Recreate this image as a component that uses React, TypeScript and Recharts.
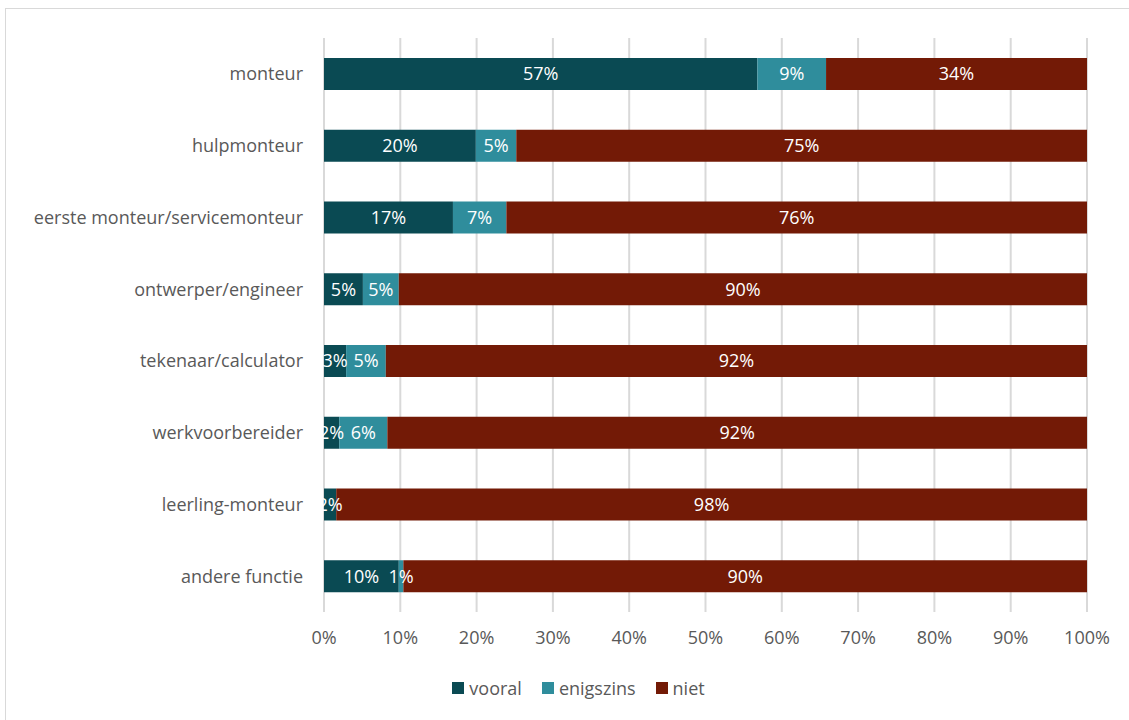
import { BarChart, Bar, XAxis, YAxis, CartesianGrid, Legend, LabelList } from 'recharts';

const categories = [
    'monteur',
    'hulpmonteur',
    'eerste monteur/servicemonteur',
    'ontwerper/engineer',
    'tekenaar/calculator',
    'werkvoorbereider',
    'leerling-monteur',
    'andere functie',
];
const vooral = [56.8, 19.9, 16.9, 5.1, 2.9, 2.0, 1.6, 9.8];
const enigszins = [9.0, 5.3, 7.0, 4.7, 5.2, 6.3, 0, 0.6];
const niet = [34.2, 74.8, 76.1, 90.2, 91.9, 91.7, 98.4, 89.6];
const xTicks = [0, 10, 20, 30, 40, 50, 60, 70, 80, 90, 100];

const series = [
    { key: 'vooral', color: '#0a4a53' },
    { key: 'enigszins', color: '#2f8d9c' },
    { key: 'niet', color: '#731a06' },
];

const data = categories.map((name, i) => ({
    name,
    vooral: vooral[i],
    enigszins: enigszins[i],
    niet: niet[i],
}));

const FONT = 'Open Sans, sans-serif';
const GRAY = '#595959';
const FS = 18;

const pct = (v: any) => (Number(v) > 0 ? `${Math.round(Number(v))}%` : '');

const LegendContent = () => (
    <div style={{ display: 'flex', justifyContent: 'center', gap: 20, fontFamily: FONT, fontSize: FS, color: GRAY }}>
        {series.map((s) => (
            <div key={s.key} style={{ display: 'flex', alignItems: 'center' }}>
                <span style={{ width: 12, height: 12, background: s.color, marginRight: 5, display: 'inline-block' }} />
                <span>{s.key}</span>
            </div>
        ))}
    </div>
);

const App = () => {
    return (
        <div style={{ position: 'absolute', left: 0, top: 0, width: 1129, height: 720, background: '#fff' }}>
            <div style={{ position: 'absolute', left: 5, top: 8, width: 1140, height: 730, border: '1px solid #d9d9d9' }} />
            <BarChart
                width={1129}
                height={720}
                data={data}
                layout="vertical"
                barSize={32}
                margin={{ top: 38, right: 42, left: 0, bottom: 20 }}
                style={{ position: 'absolute', left: 0, top: 0 }}
            >
                <CartesianGrid horizontal={false} stroke="#d9d9d9" strokeWidth={2} />
                <XAxis
                    type="number"
                    domain={[0, 100]}
                    ticks={xTicks}
                    tickFormatter={(v) => `${v}%`}
                    axisLine={false}
                    tickLine={false}
                    tickSize={0}
                    tickMargin={19}
                    height={64}
                    tick={{ fill: GRAY, fontSize: FS, fontFamily: FONT }}
                />
                <YAxis
                    type="category"
                    dataKey="name"
                    width={324}
                    axisLine={false}
                    tickLine={false}
                    tickSize={0}
                    tickMargin={21}
                    tick={{ fill: GRAY, fontSize: FS, fontFamily: FONT }}
                />
                <Legend
                    verticalAlign="bottom"
                    content={<LegendContent />}
                    wrapperStyle={{ left: 35, width: 1087 }}
                />
                {series.map((s) => (
                    <Bar key={s.key} dataKey={s.key} stackId="a" fill={s.color} isAnimationActive={false}>
                        <LabelList
                            dataKey={s.key}
                            position="center"
                            formatter={pct}
                            fill="#ffffff"
                            style={{ fontSize: FS, fontFamily: FONT }}
                        />
                    </Bar>
                ))}
            </BarChart>
        </div>
    );
};

export default App;
